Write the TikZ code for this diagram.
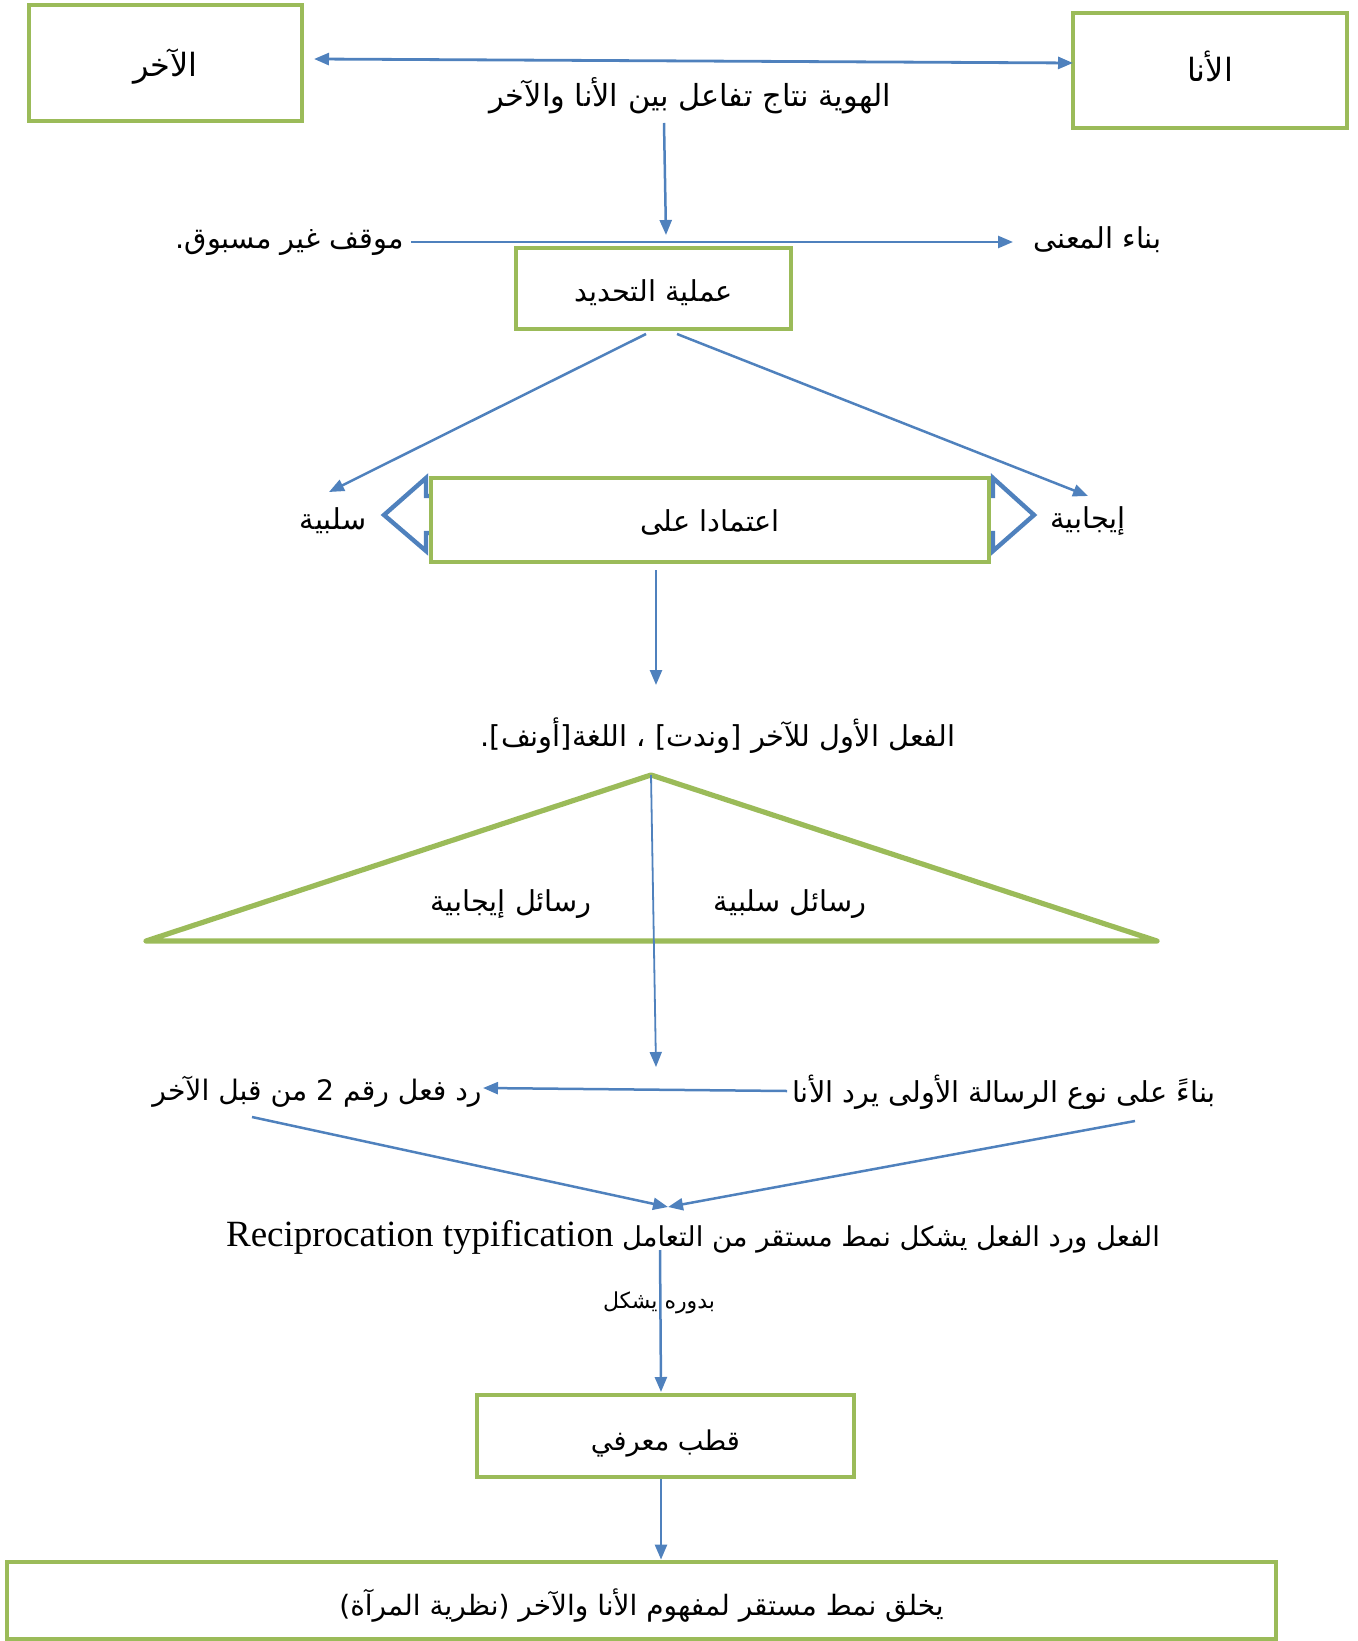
\documentclass[tikz,border=0pt]{standalone}
\usepackage{fontspec}
\setmainfont{Liberation Serif}
\newfontfamily\arabicfont[Script=Arabic]{DejaVu Sans}
\TeXXeTstate=1
\usetikzlibrary{arrows.meta,calc}
\definecolor{boxgreen}{HTML}{9BBB59}
\definecolor{linkblue}{HTML}{4F81BD}
\newcommand{\artext}[1]{{\arabicfont\beginR #1\endR}}
% shift text inside a box without changing its measured size
\newcommand{\nudge}[2]{\raisebox{#1}[\height][\depth]{#2}}
\begin{document}
\begin{tikzpicture}[x=0.5pt,y=-0.5pt,
  frame/.style={draw=boxgreen, line width=2.4pt, fill=white, inner sep=0pt,
                font=\fontsize{14.4}{17}\selectfont},
  label/.style={inner sep=1pt, font=\fontsize{14.4}{17}\selectfont},
  small/.style={inner sep=1pt, font=\fontsize{11}{13}\selectfont},
  link/.style={draw=linkblue, line width=1.25pt,
               -{Triangle[length=7.5pt,width=6pt]}},
  thinlink/.style={link, line width=0.9pt},
  block/.style={draw=linkblue, line width=2.2pt, line join=miter}]
\useasboundingbox (0,0) rectangle (1357,1641);

% top row: the two poles of the identity
\node[frame, minimum width=136.5pt, minimum height=58pt, font=\fontsize{16}{19}\selectfont] (other) at (165.5,63) {\nudge{-2pt}{\artext{الآخر}}};
\node[frame, minimum width=137pt, minimum height=57.5pt, font=\fontsize{16}{19}\selectfont] (me) at (1210,70.5) {\nudge{2pt}{\artext{الأنا}}};
\coordinate (oe) at (314,59);
\coordinate (mw) at (1073,63);
\draw[link, line width=1.4pt, {Triangle[length=7.5pt,width=6pt]}-{Triangle[length=7.5pt,width=6pt]}] (oe) -- (mw);
\node[label, font=\fontsize{15.2}{18}\selectfont] (identity) at (690,96) {\artext{الهوية نتاج تفاعل بين الأنا والآخر}};

% situation and meaning line
\node[label, anchor=east] (situation) at (406,243) {\artext{موقف غير مسبوق.}};
\node[label, anchor=west] (meaning) at (1031,240) {\artext{بناء المعنى}};
\coordinate (hl) at (411,242);
\coordinate (hr) at (1013,242);
\draw[link] (hl) -- (hr);
\coordinate (idb) at (664,123);
\coordinate (hmid) at (666,235);
\draw[link] (idb) -- (hmid);

% determination process
\node[frame, minimum width=137.5pt, minimum height=40.5pt] (det) at (653.5,288.5) {\nudge{-2pt}{\artext{عملية التحديد}}};
\coordinate (dl) at (646,334);
\coordinate (dr) at (677,334);
\node[label] (neg) at (333,521) {\artext{سلبية}};
\node[label] (pos) at (1088,521) {\artext{إيجابية}};
\coordinate (negt) at (329,492);
\coordinate (post) at (1088,496);
\draw[link] (dl) -- (negt);
\draw[link] (dr) -- (post);

% two-headed block arrow behind the basis box
\draw[block] (431,496) -- (426,496) -- (426,478) -- (384,515) -- (426,551) -- (426,533)
  -- (993,533) -- (993,551) -- (1034,515) -- (993,478) -- (993,496) -- cycle;
\node[frame, minimum width=279pt, minimum height=42pt] (basis) at (710,520) {\nudge{-1pt}{\artext{اعتمادا على}}};

\coordinate (bb) at (656,570);
\coordinate (fat) at (656,685);
\draw[link] (bb) -- (fat);
\node[label] (firstact) at (718,736) {\artext{الفعل الأول للآخر [وندت] ، اللغة[أونف].}};

% messages triangle
\coordinate (apex) at (651,775);
\coordinate (tl) at (146,941);
\coordinate (tr) at (1157,941);
\draw[draw=boxgreen, line width=2.6pt, line join=round] (apex) -- (tr) -- (tl) -- cycle;
\node[label] (posmsg) at (511,904) {\artext{رسائل إيجابية}};
\node[label] (negmsg) at (790,904) {\artext{رسائل سلبية}};
\coordinate (apexend) at (656,1067);
\draw[thinlink] (apex) -- (apexend);

% responses
\node[label] (reply) at (1004,1092) {\artext{بناءً على نوع الرسالة الأولى يرد الأنا}};
\node[label, font=\fontsize{14.1}{17}\selectfont] (react) at (317,1092) {\artext{رد فعل رقم 2 من قبل الآخر}};
\coordinate (rw) at (787,1091);
\coordinate (re) at (483,1088);
\draw[link] (rw) -- (re);
\coordinate (reactb) at (252,1117);
\coordinate (replyb) at (1135,1121);
\coordinate (meet) at (668,1207);
\draw[link] (reactb) -- (meet);
\draw[link] (replyb) -- (meet);

\node[label, font=\fontsize{13.7}{17}\selectfont] (recip) at (693,1237) {\artext{الفعل ورد الفعل يشكل نمط مستقر من التعامل \beginL{\rmfamily\fontsize{18.5}{22}\selectfont Reciprocation typification}\endL}};
\coordinate (rcb) at (660,1250);
\coordinate (polet) at (661,1392);
\node[small] (turn) at (659,1303) {\artext{بدوره يشكل}};
\draw[link] (rcb) -- (polet);

% knowledge pole and result
\node[frame, minimum width=188.5pt, minimum height=41pt, font=\fontsize{13.6}{16}\selectfont] (pole) at (665.5,1436) {\nudge{-3.5pt}{\artext{قطب معرفي}}};
\node[frame, minimum width=634.5pt, minimum height=38.5pt, font=\fontsize{14}{17}\selectfont] (final) at (641.5,1600.5) {\nudge{-2.5pt}{\artext{يخلق نمط مستقر لمفهوم الأنا والآخر (نظرية المرآة)}}};
\draw[link] (pole.south -| polet) -- (final.north -| polet);
\end{tikzpicture}
\end{document}
